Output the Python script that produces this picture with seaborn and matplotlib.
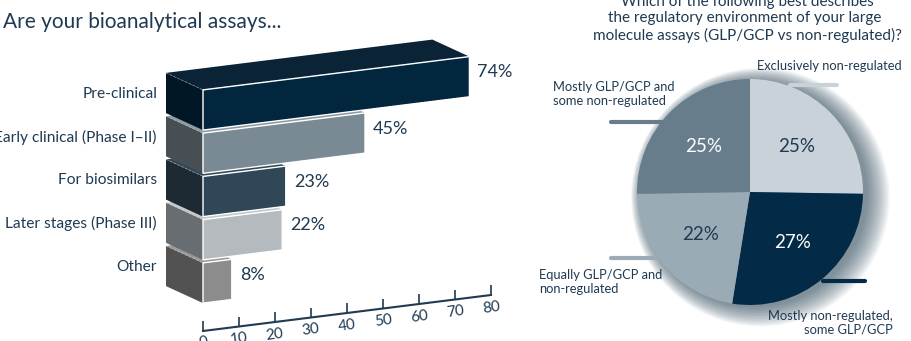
import matplotlib
matplotlib.use("Agg")
import matplotlib.pyplot as plt
import seaborn as sns
import pandas as pd
import numpy as np
from matplotlib.patches import Polygon, Circle
from matplotlib.lines import Line2D
from matplotlib.transforms import Affine2D

# ---------------- data ----------------
bar_categories = ["Pre-clinical", "Early clinical (Phase I\u2013II)", "For biosimilars",
                  "Later stages (Phase III)", "Other"]
bar_values = [74, 45, 23, 22, 8]
bar_front_colors = ["#03263f", "#7a8a94", "#2f4757", "#b4babd", "#8c8c8c"]
bar_side_colors = ["#021725", "#474f55", "#1d2a33", "#676d71", "#525252"]
bar_top_colors = ["#0a2336", "#8f9ba2", "#34495a", "#c4c8ca", "#9a9a9a"]
x_ticks = [0, 10, 20, 30, 40, 50, 60, 70, 80]

pie_labels = ["Exclusively non-regulated", "Mostly non-regulated,\nsome GLP/GCP",
              "Equally GLP/GCP and\nnon-regulated", "Mostly GLP/GCP and\nsome non-regulated"]
pie_values = [25, 27, 22, 25]
pie_colors = ["#c9d2d9", "#032a46", "#9babb5", "#687d8c"]
pie_text_colors = ["#1f3a52", "white", "#1f3a52", "white"]

TEXT = "#1f3a52"
FONT = ["Lato", "DejaVu Sans"]

sns.set_theme(style="white")
plt.rcParams["font.family"] = FONT

DPI = 100
fig = plt.figure(figsize=(9.11, 3.41), dpi=DPI)
W, H = 911, 341

# ---------------- bar chart ----------------
ax_l, ax_r, ax_t, ax_b = 203, 491, 30, 331
ax = fig.add_axes([ax_l / W, 1 - ax_b / H, (ax_r - ax_l) / W, (ax_b - ax_t) / H])
df = pd.DataFrame({"category": bar_categories, "value": bar_values})
sns.barplot(data=df, x="value", y="category", hue="category", palette=bar_front_colors,
            orient="h", width=0.93, legend=False, ax=ax, saturation=1, zorder=2)

row_px = 43.25
first_row_px = 110
ax.set_xlim(0, 80)
ax.set_ylim((ax_b - first_row_px) / row_px, (ax_t - first_row_px) / row_px)

# perspective-like shear of the original drawing (display pixels, y up)
k = 0.125
X0 = ax_l * DPI / 100.0
shear = Affine2D(np.array([[1, 0, 0], [k, 1, -k * X0], [0, 0, 1]], dtype=float))
T = ax.transData + shear

px_x = (ax_r - ax_l) / 80.0
dx = -37 / px_x
dy = -(17 + k * 37) / row_px

for i, p in enumerate(ax.patches):
    p.set_transform(T)
    p.set_clip_on(False)
    x0 = p.get_x()
    w = p.get_width()
    y0 = p.get_y()
    h = p.get_height()
    top, bot = y0, y0 + h
    side = Polygon([(x0, top), (x0, bot), (x0 + dx, bot + dy), (x0 + dx, top + dy)],
                   closed=True, facecolor=bar_side_colors[i], edgecolor="none",
                   zorder=1.5, clip_on=False, transform=T)
    ax.add_patch(side)
    topf = Polygon([(x0, top), (x0 + w, top), (x0 + w + dx, top + dy), (x0 + dx, top + dy)],
                   closed=True, facecolor=bar_top_colors[i], edgecolor="none",
                   zorder=1.2 - i * 0.01, clip_on=False, transform=T)
    ax.add_patch(topf)
    ax.plot([x0 + dx, x0, x0 + w], [top + dy, top, top], ls=(0, (3, 2)), lw=0.6,
            color="white", alpha=0.35, zorder=2.5, clip_on=False, transform=T)
    ax.text(x0 + w + 2.2, y0 + h / 2 - 0.08, f"{bar_values[i]}%", ha="left", va="center",
            fontsize=13, color=TEXT, clip_on=False, transform=T)
    ax.text(dx - 2.5, y0 + h / 2 - 0.37, bar_categories[i], ha="right", va="center",
            fontsize=11.2, color=TEXT, clip_on=False)

ax.set_yticks([])
ax.set_ylabel("")
ax.set_xlabel("")
ax.set_xticks(x_ticks)
ax.set_xticklabels([str(t) for t in x_ticks], rotation=8, color=TEXT, fontsize=11)
ax.tick_params(axis="x", direction="in", length=7, width=1.2, color=TEXT, pad=3, bottom=True)
for s in ["top", "right", "left"]:
    ax.spines[s].set_visible(False)
ax.spines["bottom"].set_color(TEXT)
ax.spines["bottom"].set_linewidth(1.5)
ax.spines["bottom"].set_transform(ax.spines["bottom"].get_transform() + shear)
for tick in ax.xaxis.get_major_ticks():
    tick.tick1line.set_transform(tick.tick1line.get_transform() + shear)
    tick.label1.set_transform(tick.label1.get_transform() + shear)

fig.text(3 / W, 1 - 22 / H, "Are your bioanalytical assays...", ha="left", va="center",
         fontsize=15, color=TEXT)

# ---------------- pie chart ----------------
cx, cy, r = 750, 192, 113
pax = fig.add_axes([(cx - r) / W, 1 - (cy + r) / H, 2 * r / W, 2 * r / H])
for j in range(14):
    pax.add_patch(Circle((0.04 + 0.004 * j, -0.02 - 0.002 * j), 1.0 + 0.011 * j,
                         facecolor="#2a4659", edgecolor="none", alpha=0.06, zorder=0,
                         clip_on=False))
wedges, _, autotexts = pax.pie(pie_values, colors=pie_colors, startangle=90, counterclock=False,
                                autopct="%.0f%%", pctdistance=0.58,
                                wedgeprops=dict(linewidth=0, zorder=2),
                                textprops=dict(fontsize=13.5))
for t, c in zip(autotexts, pie_text_colors):
    t.set_color(c)
    t.set_zorder(3)
pax.set_xlim(-1, 1)
pax.set_ylim(-1, 1)
pax.axis("off")


def px(x, y):
    return (x - cx) / r, (cy - y) / r


leaders = [((790, 85), (837, 85)), ((823, 281), (865, 281)),
           ((611, 258), (660, 258)), ((611, 122), (668, 122))]
label_pos = [((757, 66), "left"), ((893, 323), "right"), ((539, 282), "left"), ((553, 94), "left")]
for i in range(4):
    (x1, y1), (x2, y2) = leaders[i]
    a, b = px(x1, y1)
    c, d = px(x2, y2)
    pax.add_line(Line2D([a, c], [b, d], lw=3, color=pie_colors[i], zorder=1, clip_on=False))
    (lx, ly), ha = label_pos[i]
    u, v = px(lx, ly)
    pax.text(u, v, pie_labels[i], ha=ha, va="center", fontsize=9.3, color=TEXT,
             linespacing=1.2, clip_on=False)

fig.text(747 / W, 1 - 19 / H,
         "Which of the following best describes\nthe regulatory environment of your large \n"
         "molecule assays (GLP/GCP vs non-regulated)?",
         ha="center", va="center", fontsize=11, color=TEXT, linespacing=1.25)

fig.savefig("out.png", dpi=DPI, facecolor="white")
